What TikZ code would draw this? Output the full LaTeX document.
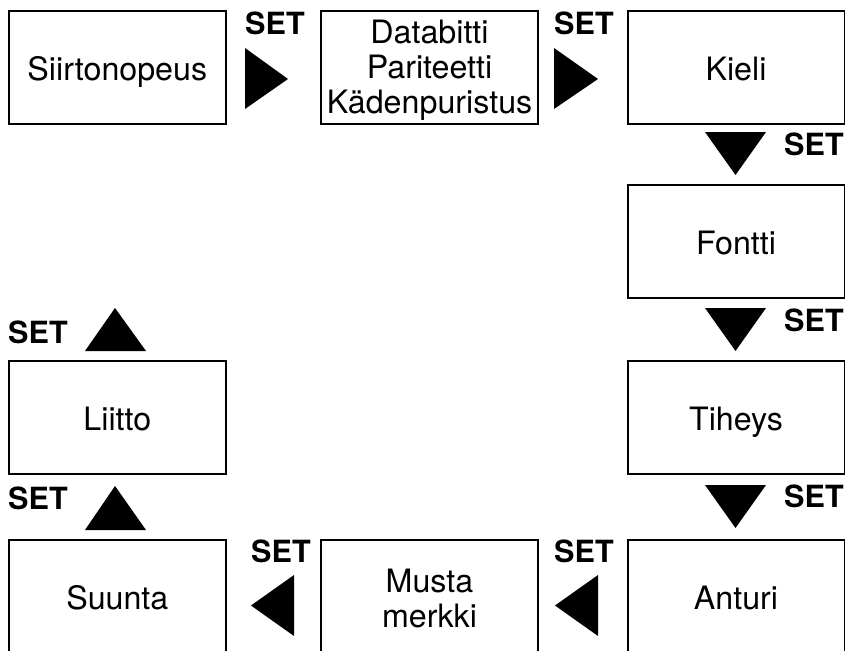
\documentclass[tikz,border=0pt]{standalone}
\usepackage{fontspec}
\setmainfont{TeX Gyre Heros}
\begin{document}
\begin{tikzpicture}[x=1pt,y=-1pt,
  stepbox/.style={draw=black,line width=2pt,outer sep=0pt,minimum width=217pt,minimum height=112.5pt,inner sep=0pt,align=center,font=\fontsize{32.2}{35}\selectfont,anchor=north west},
  oneline/.style={stepbox,text height=25pt,text depth=0pt},
  setlabel/.style={font=\fontsize{30.6}{32}\selectfont\bfseries,inner sep=0pt,anchor=base west},
  tri/.style={fill=black,draw=none}]
\clip (0,0) rectangle (845,650);
\useasboundingbox (0,0) rectangle (845,650);
\node[oneline] (a) at (8.8,11.3) {Siirtonopeus};
\node[stepbox] (b) at (321,11.3) {Databitti\rule{0pt}{29.5pt}\\Pariteetti\\Kädenpuristus};
\node[oneline] (c) at (627.5,11.3) {Kieli};
\node[oneline] (d) at (627.5,185.3) {Fontti};
\node[oneline] (e) at (627.5,361.3) {Tiheys};
\node[oneline] (f) at (627.5,540.3) {Anturi};
\node[stepbox] (g) at (321,540.3) {Musta\rule{0pt}{28pt}\\merkki};
\node[oneline] (h) at (8.8,540.3) {Suunta};
\node[oneline] (i) at (8.8,361.3) {Liitto};
\fill[tri] (245,48) -- (288,79) -- (245,109) -- cycle;
\fill[tri] (554,48) -- (598,79) -- (554,109) -- cycle;
\fill[tri] (705,132) -- (766,132) -- (735.5,175) -- cycle;
\fill[tri] (705,308) -- (766,308) -- (735.5,351) -- cycle;
\fill[tri] (705,485) -- (766,485) -- (735.5,528) -- cycle;
\fill[tri] (294,575) -- (251,605.5) -- (294,636) -- cycle;
\fill[tri] (598,575) -- (555,605.5) -- (598,636) -- cycle;
\fill[tri] (85,530) -- (146,530) -- (115,486) -- cycle;
\fill[tri] (85,351) -- (146,351) -- (115,308) -- cycle;
\node[setlabel] (s1) at (245,35) {SET};
\node[setlabel] (s2) at (554,35) {SET};
\node[setlabel] (s3) at (784,155) {SET};
\node[setlabel] (s4) at (784,331) {SET};
\node[setlabel] (s5) at (784,507) {SET};
\node[setlabel] (s6) at (251,562) {SET};
\node[setlabel] (s7) at (554,562) {SET};
\node[setlabel] (s8) at (8,509) {SET};
\node[setlabel] (s9) at (8,343) {SET};
\end{tikzpicture}
\end{document}
